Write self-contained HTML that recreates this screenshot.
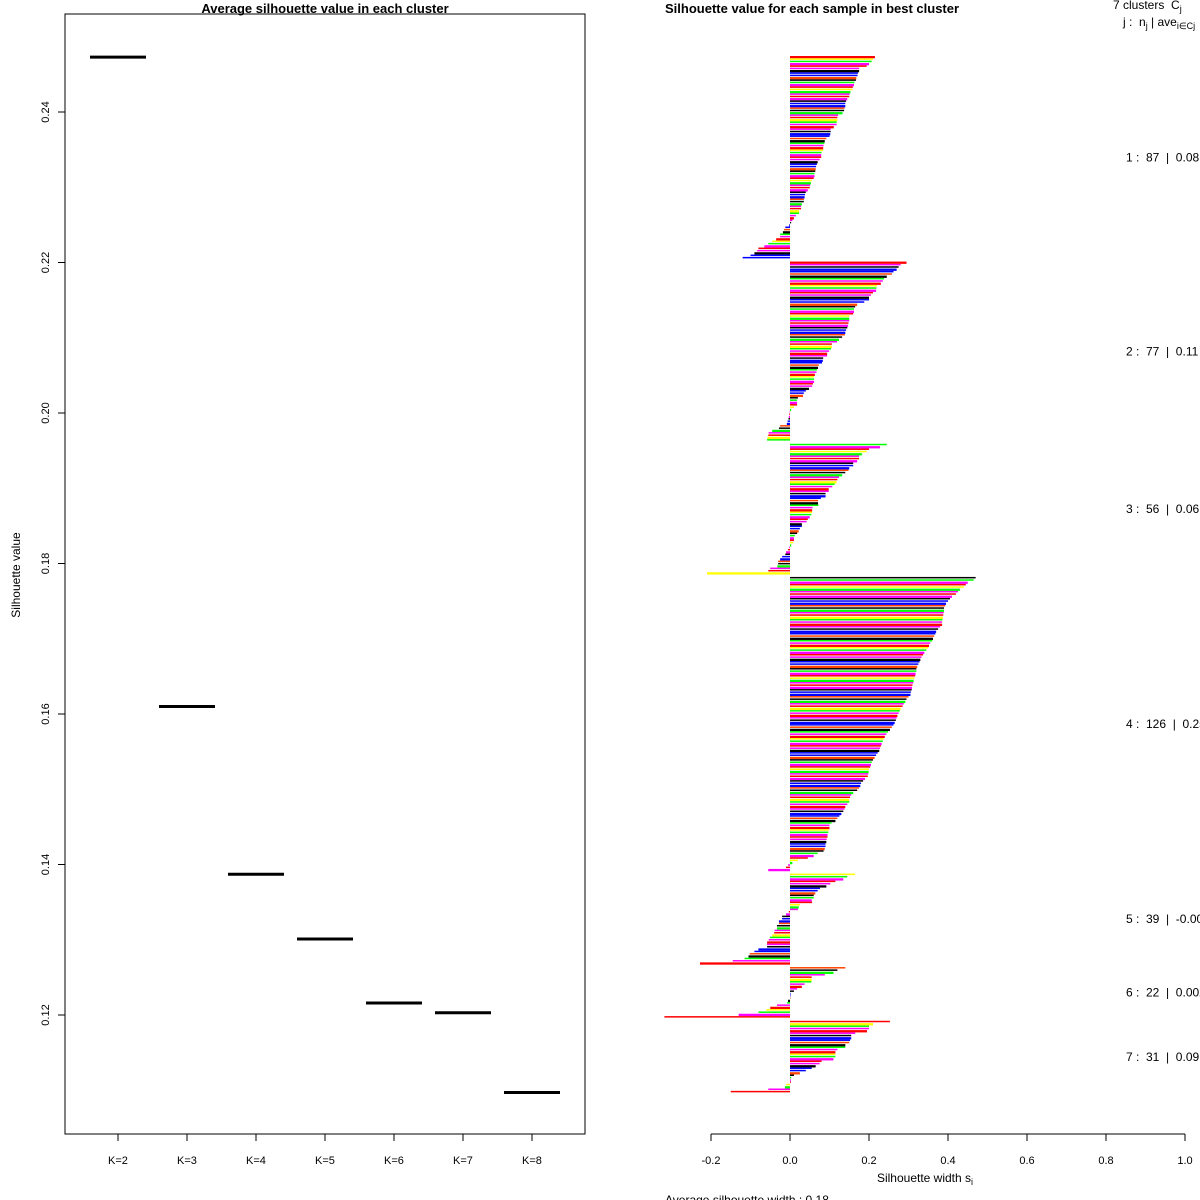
<!DOCTYPE html>
<html><head><meta charset="utf-8"><style>
html,body{margin:0;padding:0;background:#fff;}
svg{display:block;font-family:"Liberation Sans",sans-serif;}
.pre{white-space:pre;}
</style></head><body>
<svg id="chart" width="1200" height="1200" viewBox="0 0 1200 1200" xmlns="http://www.w3.org/2000/svg">
<rect width="1200" height="1200" fill="#fff"/>
<g id="left">
<rect x="65" y="14" width="520" height="1120" fill="none" stroke="#000" stroke-width="1"/>
<text x="325" y="13" text-anchor="middle" font-size="13" font-weight="bold">Average silhouette value in each cluster</text>
<text transform="translate(20,575) rotate(-90)" text-anchor="middle" font-size="12">Silhouette value</text>
</g>
<g id="right">
<text x="665" y="13" font-size="13" font-weight="bold">Silhouette value for each sample in best cluster</text>
<text x="925" y="1182" text-anchor="middle" font-size="12">Silhouette width s<tspan font-size="9" dy="3">i</tspan></text>
<text x="665" y="1204" font-size="12">Average silhouette width : 0.18</text>
<text x="1113" y="9" font-size="12" class="pre">7 clusters  C<tspan font-size="9" dy="3">j</tspan></text>
<text x="1123" y="26" font-size="12" class="pre">j :  n<tspan font-size="9" dy="3">j</tspan><tspan dy="-3"> | ave</tspan><tspan font-size="9" dy="3">i∈Cj</tspan><tspan dy="-3">  s</tspan><tspan font-size="9" dy="3">i</tspan></text>
</g>
<script>
var kLabels=["K=2","K=3","K=4","K=5","K=6","K=7","K=8"];
var kValues=[0.2473,0.1610,0.1387,0.1301,0.1216,0.1203,0.1097];
var yTicks=[0.12,0.14,0.16,0.18,0.20,0.22,0.24];
var xTicks=[-0.2,0,0.2,0.4,0.6,0.8,1.0];
var xTickLabels=["-0.2","0.0","0.2","0.4","0.6","0.8","1.0"];
var clusterN=[87,77,56,126,39,22,31];
var clusterAvg=["0.08","0.11","0.06","0.25","-0.003","0.002","0.09"];
var c1=[0.215,0.21,0.207,0.2,0.194,0.175,0.175,0.172,0.171,0.168,0.167,0.163,0.162,0.159,0.158,0.153,0.151,0.15,0.145,0.142,0.14,0.14,0.138,0.137,0.133,0.122,0.12,0.12,0.118,0.118,0.111,0.103,0.103,0.102,0.1,0.092,0.088,0.087,0.085,0.084,0.084,0.08,0.079,0.079,0.075,0.07,0.068,0.066,0.065,0.064,0.062,0.062,0.06,0.055,0.053,0.051,0.05,0.045,0.04,0.038,0.037,0.035,0.035,0.03,0.028,0.028,0.023,0.023,0.015,0.01,0.006,0.003,-0.002,-0.012,-0.015,-0.018,-0.025,-0.025,-0.035,-0.045,-0.055,-0.065,-0.08,-0.083,-0.09,-0.1,-0.12];
var c2=[0.295,0.28,0.275,0.27,0.262,0.258,0.245,0.238,0.235,0.23,0.22,0.219,0.218,0.21,0.205,0.2,0.2,0.188,0.17,0.165,0.162,0.162,0.16,0.15,0.15,0.15,0.148,0.147,0.145,0.142,0.14,0.139,0.132,0.124,0.119,0.106,0.106,0.104,0.099,0.094,0.094,0.084,0.083,0.081,0.073,0.071,0.068,0.067,0.063,0.061,0.061,0.061,0.058,0.056,0.048,0.04,0.035,0.033,0.02,0.018,0.018,0.018,0.01,0.003,-0.001,-0.002,-0.003,-0.004,-0.006,-0.008,-0.025,-0.028,-0.045,-0.054,-0.055,-0.057,-0.058];
var c3=[0.245,0.228,0.2,0.194,0.182,0.175,0.175,0.17,0.16,0.16,0.15,0.148,0.14,0.132,0.124,0.12,0.118,0.113,0.107,0.098,0.098,0.09,0.09,0.078,0.071,0.071,0.072,0.057,0.056,0.056,0.054,0.05,0.045,0.042,0.03,0.03,0.025,0.022,0.018,0.012,0.01,0.01,0.008,0.003,-0.002,-0.005,-0.01,-0.012,-0.02,-0.025,-0.03,-0.03,-0.032,-0.05,-0.055,-0.21];
var c4=[0.47,0.465,0.45,0.445,0.44,0.43,0.425,0.42,0.41,0.405,0.4,0.395,0.393,0.39,0.39,0.389,0.388,0.387,0.386,0.385,0.385,0.38,0.375,0.37,0.368,0.365,0.362,0.36,0.355,0.352,0.35,0.345,0.34,0.337,0.333,0.33,0.328,0.325,0.322,0.32,0.32,0.318,0.317,0.315,0.313,0.312,0.31,0.309,0.308,0.306,0.305,0.3,0.295,0.292,0.288,0.285,0.28,0.278,0.275,0.272,0.27,0.268,0.265,0.262,0.258,0.253,0.248,0.244,0.24,0.237,0.235,0.232,0.23,0.228,0.226,0.222,0.218,0.214,0.21,0.207,0.205,0.203,0.2,0.199,0.198,0.197,0.19,0.185,0.18,0.178,0.175,0.17,0.16,0.155,0.152,0.15,0.15,0.145,0.14,0.138,0.135,0.13,0.125,0.12,0.115,0.105,0.1,0.1,0.098,0.097,0.095,0.095,0.093,0.092,0.09,0.09,0.088,0.085,0.07,0.06,0.045,0.02,0.006,-0.005,-0.01,-0.055];
var c5=[0.165,0.145,0.135,0.115,0.102,0.092,0.076,0.07,0.064,0.06,0.06,0.055,0.056,0.025,0.022,0.02,-0.003,-0.01,-0.02,-0.02,-0.028,-0.028,-0.033,-0.033,-0.039,-0.04,-0.045,-0.051,-0.054,-0.058,-0.058,-0.058,-0.08,-0.09,-0.102,-0.105,-0.115,-0.145,-0.228];
var c6=[0.14,0.12,0.11,0.088,0.055,0.055,0.054,0.037,0.03,0.018,0.01,0.001,0,0,-0.005,-0.008,-0.033,-0.05,-0.06,-0.08,-0.13,-0.318];
var c7=[0.253,0.21,0.2,0.2,0.195,0.165,0.155,0.155,0.152,0.15,0.14,0.14,0.12,0.115,0.115,0.115,0.11,0.08,0.075,0.065,0.055,0.04,0.025,0.01,0.003,0.002,0.002,-0.01,-0.013,-0.055,-0.15];
var clusters=[c1,c2,c3,c4,c5,c6,c7];
var palette=["#ff0000","#0000ff","#ff00ff","#00ff00","#000000","#ffff00","#ff4500","#ff0000","#ff00ff","#0000ff","#00ff00","#000000","#ff00ff"];

var NS="http://www.w3.org/2000/svg";
var L=document.getElementById("left"), R=document.getElementById("right");
function mk(tag,attrs,parent){var e=document.createElementNS(NS,tag);for(var k in attrs)e.setAttribute(k,attrs[k]);parent.appendChild(e);return e;}
function ly(v){return 112+(0.24-v)/0.02*150.5;}
function lx(i){return 118+i*69;}
mk("line",{x1:lx(0),x2:lx(kLabels.length-1),y1:1134,y2:1134,stroke:"#000"},L);
kLabels.forEach(function(lab,i){
  var t=mk("line",{x1:lx(i),x2:lx(i),y1:1134,y2:1141,stroke:"#000"},L);
  
  
  var tx=mk("text",{x:lx(i),y:1164,"text-anchor":"middle","font-size":"11"},L);
  tx.textContent=lab;
  
  
  var seg=mk("line",{x1:lx(i)-28,x2:lx(i)+28,y1:ly(kValues[i]),y2:ly(kValues[i]),stroke:"#000","stroke-width":"3"},L);
  
  
});
mk("line",{x1:65,x2:65,y1:ly(yTicks[0]),y2:ly(yTicks[yTicks.length-1]),stroke:"#000"},L);
yTicks.forEach(function(v){
  var t=mk("line",{x1:58,x2:65,y1:ly(v),y2:ly(v),stroke:"#000"},L);
  
  
  var tx=mk("text",{transform:"translate(49,"+ly(v)+") rotate(-90)","text-anchor":"middle","font-size":"11"},L);
  tx.textContent=v.toFixed(2);
  
  
});
function rx(v){return 790+v*395;}
var step=2.336, y0=56, pos=0, idx=0;
clusters.forEach(function(c,ci){
  var start=y0+pos*step;
  c.forEach(function(v){
    var y=y0+pos*step;
    var x1=Math.min(rx(0),rx(v)), w=Math.abs(rx(v)-rx(0));
    var b=mk("rect",{x:x1,y:y,width:Math.max(w,0.5),height:(idx%3==0?2.3:1.5),fill:palette[(idx*5+ci)%palette.length]},R);
    
    
    pos++; idx++;
  });
  var mid=(start+y0+pos*step)/2;
  var lt=mk("text",{x:1126,y:mid+4,"font-size":"12","class":"pre"},R);
  lt.textContent=(ci+1)+" :  "+clusterN[ci]+"  |  "+clusterAvg[ci];
  
  
  pos++;
});
mk("line",{x1:rx(xTicks[0]),x2:rx(xTicks[xTicks.length-1]),y1:1134,y2:1134,stroke:"#000"},R);
xTicks.forEach(function(v,i){
  var t=mk("line",{x1:rx(v),x2:rx(v),y1:1134,y2:1141,stroke:"#000"},R);
  
  
  var tx=mk("text",{x:rx(v),y:1164,"text-anchor":"middle","font-size":"11"},R);
  tx.textContent=xTickLabels[i];
  
  
});
</script>
</svg>
</body></html>
